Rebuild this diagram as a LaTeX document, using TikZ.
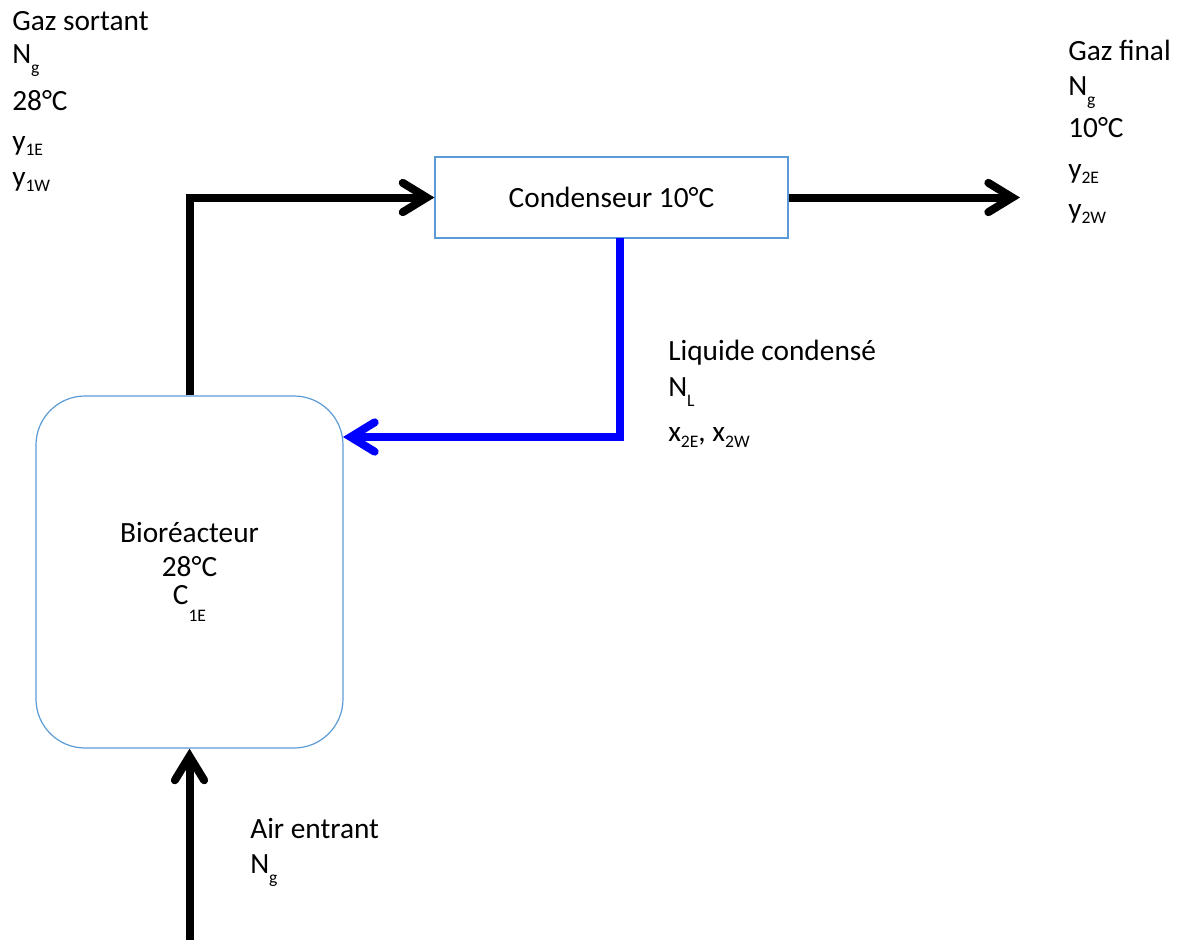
\documentclass[tikz,border=0pt]{standalone}
\usepackage{fontspec}
\setmainfont{Carlito}
\usetikzlibrary{arrows.meta}
\definecolor{boxblue}{HTML}{5B9BD5}
\newcommand\sbs[2][4pt]{\raisebox{-#1}{\fontsize{13.2pt}{13.2pt}\selectfont #2}}
\tikzset{
  lbl/.style={anchor=base west, inner sep=0pt, font=\fontsize{22pt}{26pt}\selectfont},
  unit/.style={draw=boxblue, line width=0.9pt, font=\fontsize{22pt}{26pt}\selectfont, inner sep=0pt},
  flow/.style={line width=6pt, -{Straight Barb[length=18pt,width=22pt,line cap=round]}},
}
\begin{document}
\begin{tikzpicture}[x=0.75pt,y=-0.75pt]
\useasboundingbox (0,0) rectangle (1182,940);
% units
\node[unit, minimum width=264.75pt, minimum height=60.75pt] (cond) at (611.5,197.5) {Condenseur 10°C};
\node[unit, rounded corners=36.75pt, minimum width=230.25pt, minimum height=264pt, align=center] (bio) at (189.5,572)
  {Bioréacteur\\[-0.5pt]28°C\\[-5pt]C\sbs[12.75pt]{1E}};
% coordinates for free ends
\coordinate (gazout) at (1020,197.5);
\coordinate (airin) at (189.5,940);
\coordinate (liqtop) at (620,238);
\coordinate (liqbend) at (620,437);
\coordinate (bioin) at (343,437);
% connectors
\draw[flow] (bio.north) |- (cond.west);
\draw[flow] (cond.east) -- (gazout);
\draw[flow, blue] (liqtop) -- (liqbend) -- (bioin);
\draw[flow] (airin) -- (bio.south);
% labels
\node[lbl] (gs1) at (12,30) {Gaz sortant};
\node[lbl] (gs2) at (12,63) {N\sbs[8pt]{g}};
\node[lbl] (gs3) at (12,110) {28°C};
\node[lbl] (gs4) at (12,150) {y\sbs{1E}};
\node[lbl] (gs5) at (12,186) {y\sbs{1W}};
\node[lbl] (gf1) at (1068,60) {Gaz final};
\node[lbl] (gf2) at (1068,95) {N\sbs[8pt]{g}};
\node[lbl] (gf3) at (1068,137) {10°C};
\node[lbl] (gf4) at (1068,178) {y\sbs{2E}};
\node[lbl] (gf5) at (1068,218) {y\sbs{2W}};
\node[lbl] (lc1) at (668,360) {Liquide condensé};
\node[lbl] (lc2) at (668,396) {N\sbs[7.5pt]{L}};
\node[lbl] (lc3) at (668,441) {x\sbs[5pt]{2E}, x\sbs[5pt]{2W}};
\node[lbl] (ae1) at (250,838) {Air entrant};
\node[lbl] (ae2) at (250,873) {N\sbs[8pt]{g}};
\end{tikzpicture}
\end{document}
